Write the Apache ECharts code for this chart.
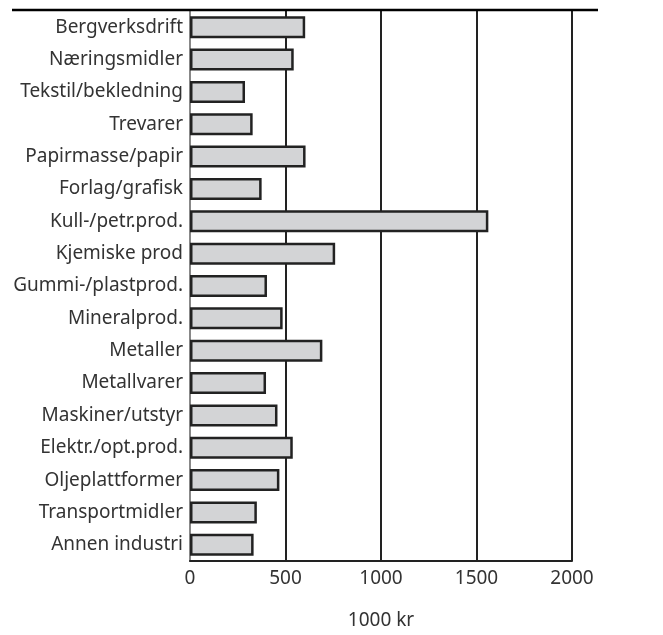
<!DOCTYPE html>
<html><head><meta charset="utf-8">
<script src="https://cdn.jsdelivr.net/npm/echarts@6/dist/echarts.min.js"></script>
<style>html,body{margin:0;padding:0;background:#fff}#c{width:663px;height:635px}</style>
</head><body><div id="c"></div>
<script>
var categories = ["Bergverksdrift","Næringsmidler","Tekstil/bekledning","Trevarer","Papirmasse/papir","Forlag/grafisk","Kull-/petr.prod.","Kjemiske prod","Gummi-/plastprod.","Mineralprod.","Metaller","Metallvarer","Maskiner/utstyr","Elektr./opt.prod.","Oljeplattformer","Transportmidler","Annen industri"];
var values = [603, 543, 288, 328, 605, 375, 1562, 760, 403, 485, 693, 398, 458, 538, 468, 350, 333];
var xTicks = [0, 500, 1000, 1500, 2000];
var xTitle = "1000 kr";

var FONT = "Noto Sans";
var chart = echarts.init(document.getElementById('c'), null, {renderer: 'canvas'});
chart.setOption({
  animation: false,
  grid: {left: 190, right: 91, top: 11, bottom: 70, containLabel: false},
  xAxis: {
    type: 'value', min: xTicks[0], max: xTicks[xTicks.length-1], interval: 500,
    name: xTitle, nameLocation: 'middle', nameGap: 50,
    nameTextStyle: {fontFamily: FONT, fontSize: 19, color: '#333'},
    axisLine: {show: true, lineStyle: {color: '#222', width: 2}},
    axisTick: {show: false},
    axisLabel: {fontFamily: FONT, fontSize: 19, color: '#333', margin: 8,
      formatter: function (v) { return String(v); }},
    splitLine: {show: true, lineStyle: {color: '#222', width: 2}}
  },
  yAxis: {
    type: 'category', data: categories, inverse: true,
    axisLine: {show: true, lineStyle: {color: '#888', width: 2}},
    axisTick: {show: false},
    axisLabel: {fontFamily: FONT, fontSize: 19, color: '#333', margin: 7},
    splitLine: {show: false}
  },
  series: [{
    type: 'bar', data: values, barWidth: 22,
    itemStyle: {color: '#d3d4d6', borderColor: '#222', borderWidth: 2.5}
  }],
  graphic: [{
    type: 'line', shape: {x1: 12, y1: 10, x2: 598, y2: 10},
    style: {stroke: '#000', lineWidth: 2.5}, z: 10
  }]
});
</script></body></html>
